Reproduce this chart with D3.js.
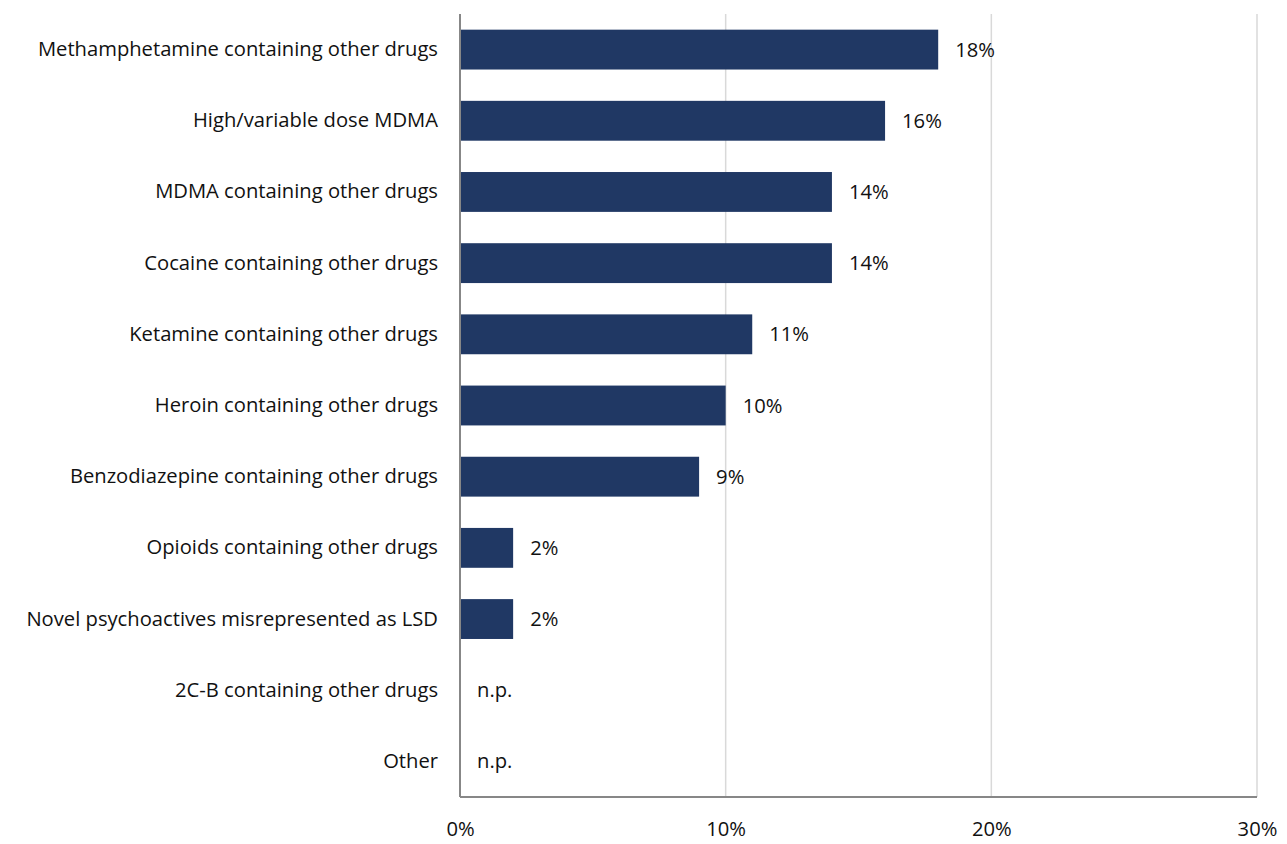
<!DOCTYPE html>
<html>
<head>
<meta charset="utf-8">
<script src="https://cdn.jsdelivr.net/npm/d3@7"></script>
<style>
  body { margin: 0; background: #fff; }
  svg text { font-family: "Open Sans", Lato, sans-serif; fill: #111; }
</style>
</head>
<body>
<svg id="chart" width="1287" height="844"></svg>
<script>
// Share of detected adulterations by category (null = not published)
const categories = [
  "Methamphetamine containing other drugs",
  "High/variable dose MDMA",
  "MDMA containing other drugs",
  "Cocaine containing other drugs",
  "Ketamine containing other drugs",
  "Heroin containing other drugs",
  "Benzodiazepine containing other drugs",
  "Opioids containing other drugs",
  "Novel psychoactives misrepresented as LSD",
  "2C-B containing other drugs",
  "Other"
];
const values = [18, 16, 14, 14, 11, 10, 9, 2, 2, null, null];
const tickValues = [0, 10, 20, 30];

const FONT = "'Open Sans', Lato, sans-serif";
const FS = 20.2;

const svg = d3.select("#chart");
const margin = { top: 14, right: 30, bottom: 47, left: 460 };
const height = 844 - margin.top - margin.bottom;

const g = svg.append("g").attr("transform", `translate(${margin.left},${margin.top})`);

const x = d3.scaleLinear().domain([0, 30]).range([0, 797]);
const y = d3.scaleBand().domain(categories).range([0, height]).paddingInner(0.44).paddingOuter(0.22);

// vertical gridlines
g.selectAll(".grid").data(tickValues.slice(1)).join("line")
  .attr("x1", d => x(d)).attr("x2", d => x(d))
  .attr("y1", 0).attr("y2", height)
  .attr("stroke", "#d9d9d9").attr("stroke-width", 1.5);

// bars
const rows = categories.map((c, i) => ({ c, v: values[i] }));
g.selectAll(".bar").data(rows.filter(d => d.v !== null)).join("rect")
  .attr("x", x(0))
  .attr("y", d => y(d.c))
  .attr("width", d => x(d.v) - x(0))
  .attr("height", y.bandwidth())
  .attr("fill", "#203864");

// value labels
g.selectAll(".val").data(rows).join("text")
  .attr("x", d => x(d.v === null ? 0 : d.v) + 17)
  .attr("y", d => y(d.c) + y.bandwidth() / 2)
  .attr("dy", "0.35em")
  .attr("font-size", FS)
  .text(d => d.v === null ? "n.p." : d.v + "%");

// category axis
const yAxis = g.append("g").call(d3.axisLeft(y).tickSize(0).tickPadding(22));
yAxis.select(".domain").remove();
yAxis.selectAll("text").attr("font-size", FS).style("font-family", FONT).attr("fill", "#111");

// value axis
const xAxis = g.append("g").attr("transform", `translate(0,${height})`)
  .call(d3.axisBottom(x).tickValues(tickValues).tickFormat(d => d + "%").tickSize(0).tickPadding(25));
xAxis.select(".domain").remove();
xAxis.selectAll("text").attr("font-size", FS).style("font-family", FONT).attr("fill", "#111");

// axis lines
g.append("line").attr("x1", 0).attr("x2", x(30)).attr("y1", height).attr("y2", height)
  .attr("stroke", "#878787").attr("stroke-width", 2);
g.append("line").attr("x1", 0).attr("x2", 0).attr("y1", 0).attr("y2", height)
  .attr("stroke", "#878787").attr("stroke-width", 2);
</script>
</body>
</html>
